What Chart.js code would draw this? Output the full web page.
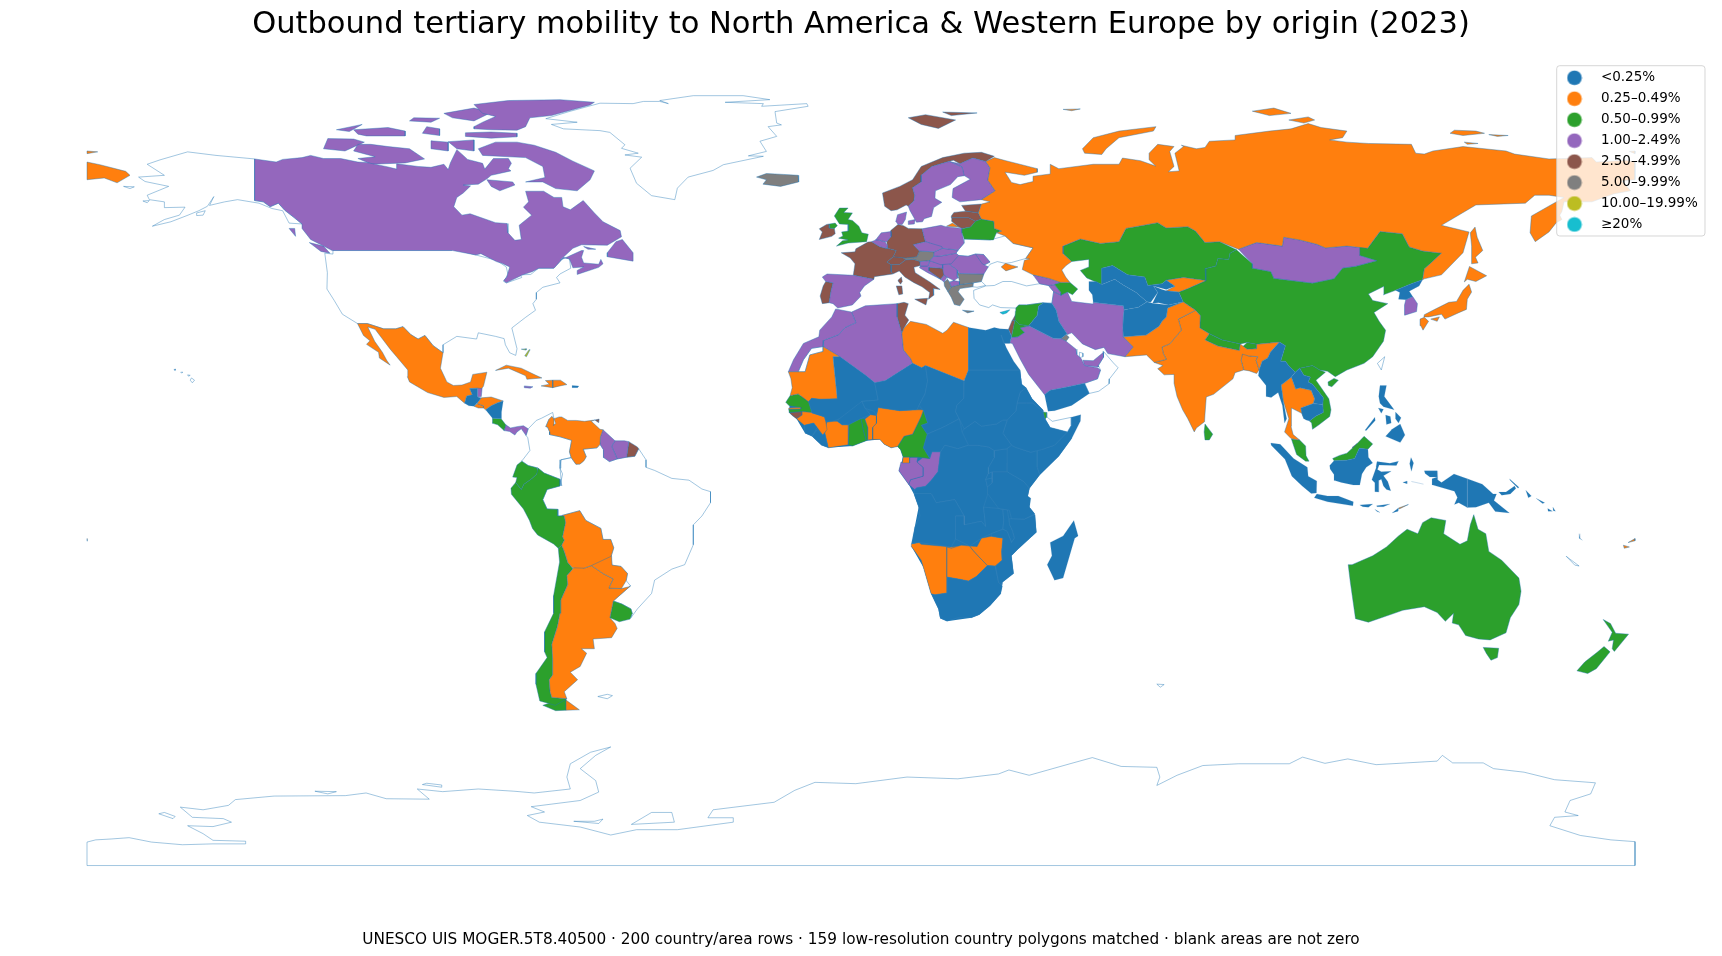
<!DOCTYPE html>
<html>
<head>
<meta charset="utf-8">
<title>Outbound tertiary mobility</title>
<script src="https://cdn.jsdelivr.net/npm/chart.js@4"></script>
<style>
  html, body { margin: 0; padding: 0; background: #fff; }
  canvas { display: block; }
</style>
</head>
<body>
<canvas id="map" width="1722" height="956"></canvas>
<script>
const titleText = 'Outbound tertiary mobility to North America & Western Europe by origin (2023)';
const noteText = 'UNESCO UIS MOGER.5T8.40500 · 200 country/area rows · 159 low-resolution country polygons matched · blank areas are not zero';
const classLabels = ['<0.25%', '0.25–0.49%', '0.50–0.99%', '1.00–2.49%', '2.50–4.99%', '5.00–9.99%', '10.00–19.99%', '≥20%'];
const classColors = ['#1f77b4', '#ff7f0e', '#2ca02c', '#9467bd', '#8c564b', '#7f7f7f', '#bcbd22', '#17becf'];

// country outlines as flat lon,lat lists, one list per share class
const under025 = [
  [-92.2,14.5,-91.7,16.1,-90.4,16.4,-91,17.8,-89.2,17.9,-89.2,15.9,-88.3,15.7,-89.2,14.6,-90,13.8,-91.2,13.9], // Guatemala
  [-83.2,15,-84.5,14.6,-86,13.9,-87.3,13,-85.7,11.1,-83.7,11,-83.6,12.5], // Nicaragua
  [-67.2,18.5,-65.6,18.4,-65.9,18,-67.2,18], // Puerto Rico
  [42.4,37.2,44.4,37.1,45.4,35.5,46,33,48,30,47.7,30,46.5,29.1,44.7,29.2,39,32,41,34.4,41.3,36.4], // Iraq
  [42.7,16.4,43,16.7,44,17.4,48.2,18.2,52,19,53.1,16.7,49,14,45,12.8,43.5,12.7], // Yemen
  [56,45,58.5,45.6,62,43.5,66,43,66.7,41.1,70,41.5,71,42.3,73,40.9,71,40.2,68,41,69,39.5,67.4,37.3,66.5,37.4,64,39.5,61,41.2,59,42.5,56,41.3], // Uzbekistan
  [53,42,54.7,42,56,41.3,59,42.5,61,41.2,64,39.5,66.5,37.4,64.5,36.2,61.2,35.6,61,36.5,54,37.3,53.8,39,53,40], // Turkmenistan
  [67.8,37.1,69.2,37.2,71.5,36.7,74.9,37.4,73.9,39.6,71,39.9,70,40.2,68,41,69,39.5], // Tajikistan
  [61.2,35.6,64.5,36.2,66.5,37.4,67.8,37.1,71.5,36.7,74.9,37.4,71.3,36,71,34,70,33,69.3,31.9,66.3,29.9,61,29.5,60.9,31.5,61,34], // Afghanistan
  [130.6,42.4,129.8,41,127.5,39.8,128.3,38.6,126.7,37.9,125,38,125.3,39.5,124.3,40,128,41.5], // North Korea
  [92.6,22,93.3,24,94.6,24.7,95.2,26,97.3,28.3,98.7,27.5,97.6,24,98.7,24,99.5,22.9,101,21.5,100.1,20.4,97.7,18.6,98.2,15,99,11,98.5,10,98,14,97,16.9,95.4,15.8,94.2,16,94.2,18.5,92.4,20.7], // Myanmar
  [100.1,20.4,101.1,17.7,102.1,18,104.7,17.4,105.5,15.5,105.2,14.4,107.4,14.2,107.5,15.8,105,18.8,104,19.3,104.5,20.4,103,20.8,102,22.4,101,21.5], // Laos
  [102.5,12.2,102.3,13.4,105.2,14.4,107.4,14.2,107.5,12.4,105.8,11.6,104.3,10.5,103.5,10.7,103,11], // Cambodia
  [109,0.4,110,1.5,112.9,1.6,114.8,2,115.9,4.3,117.9,4.1,118,2.3,119,1,117.5,0,116.5,-1.5,116,-4,114.5,-4,111.7,-3.4,110.2,-3,110,-1.6,109.1,-0.4], // Indonesia
  [95.3,5.5,97.5,5.2,100.6,2,103.8,0,104,-2,106,-3.1,105.9,-5.8,104.7,-5.9,102.6,-4.2,100.2,-2,98.6,1.8,95.4,5],
  [105.4,-6.9,106,-6,108.5,-6.5,111,-6.5,114.5,-7.8,114.4,-8.7,108.5,-7.8],
  [116,-8.5,119,-8.3,118,-9,116.7,-8.9],
  [119.9,-8.7,123,-8.3,121.5,-8.9,120,-8.9],
  [119.5,-9.5,120.7,-10.2,120,-10],
  [123.5,-10.3,125,-9.2,124.9,-9.9],
  [119.8,0.2,120,1.3,123,0.9,125,1.4,124.5,0.4,120.5,0.5,120.1,-0.5,121,-1,123.3,-0.9,121.5,-1.9,122.5,-3.2,123.2,-5.3,122.2,-5,121.5,-4.2,121,-2.7,120.4,-3,120.4,-5.6,119.5,-5.5,119.5,-3.5,118.8,-2.8,119.8,-0.1],
  [127.9,2.2,128.5,1,128,-0.9,127.6,0.8],
  [128,-3.2,130.8,-3.8,129,-3.4],
  [126,-3.4,127,-3.1,127,-3.7],
  [131,-0.8,134,-0.8,134.1,-2.8,135,-3.4,137.9,-1.5,141,-2.6,141,-9.1,139,-8,138,-8.4,138.7,-6.8,138,-5.4,133,-4,132.8,-2.6,134,-2.2,132.3,-2.2,131.2,-1.4],
  [141,-2.6,144.5,-3.8,147,-6,147.8,-6,147.2,-7.5,150.8,-10.3,147.5,-10,146,-8,143,-9,141,-9.1], // Papua New Guinea
  [148.3,-5.6,150,-5.6,152,-4.2,152.3,-4.8,151,-6,149,-6.3],
  [150.8,-2.6,153,-4.5,152.8,-4.7,151,-3],
  [154.6,-5.2,155.9,-6.5,155.2,-6.9], // Solomon Islands
  [157,-7,159,-8,158.5,-8.2],
  [160.9,-9,161.5,-9.9,161,-9.8],
  [159.7,-9.3,160.8,-9.9,159.8,-9.9],
  [167,-15,167.2,-16,167.8,-16.5,167,-16], // Vanuatu
  [120.4,16,120.7,18.5,122.2,18.5,121.7,16,124,13,121.5,13.7,120.7,14.5], // Philippines
  [122,7,125.4,5.6,126.5,7.3,125.4,9.8,123.5,8.6],
  [122,11.8,123.1,11.5,123.3,10,122.2,9.7],
  [124.3,12.5,125.6,11.2,125,10,124.3,11],
  [117.2,8.4,119.5,11.3,119.6,10.6,117.5,8.3],
  [120.3,13.4,121.5,13.1,121,12.2],
  [49.5,-12,50.5,-15.5,49.7,-16,47,-25,45,-25.5,43.3,-22,44.4,-20,44,-17,47,-15.5], // Madagascar
  [25,31.6,29,31,31,31.6,32.3,31.3,34.3,31.2,35,29.6,34.6,28,33.2,28,32.6,29.9,33.8,27,35.5,24,37,22,25,22], // Egypt
  [24,20,24,19.5,25,22,37,22,37.4,18.8,38.4,18,37,17,36.3,14.5,36,12.7,34,10.7,33,10.7,31.5,9.8,28,9.3,26.5,10.4,24,8.7,23,10.7,22,12.6,22.3,14,23.9,15.6], // Sudan
  [24,8.7,26.5,10.4,28,9.3,31.5,9.8,33,10.7,34,10.7,33,7.7,35,5,33.9,4.2,31,3.8,29.7,4.6,27,5,25,5,23.5,8], // South Sudan
  [36,12.7,36.3,14.5,38.5,14.5,40,14.5,42.4,12.5,42.8,11,44,9,48,8,45,5,42,4,39.5,3.4,36,4.5,35,5,33,7.7,34,10.7], // Ethiopia
  [36.3,14.5,37,17,38.4,18,39.8,15.5,42.4,12.9,42,12.5,40,14.5], // Eritrea
  [48.9,11.3,51.1,11.9,51,10.4,49,6.5,46,2.5,41.6,-1.7,41,0,41,4,42,4,45,5,48,8,48.9,9.5], // Somalia
  [34,4.2,35,5,36,4.5,39.5,3.4,41,4,41,0,41.6,-1.7,39.2,-4.7,37.7,-3.1,34,-1,34,1], // Kenya
  [29.6,-1.4,30.5,-1,34,-1,34,1,35,2,34,4.2,31,3.8,31,2.2,29.7,0], // Uganda
  [29,-2.7,29.6,-1.4,30.5,-1,30.5,-2.4], // Rwanda
  [29,-2.7,30.5,-2.4,30.5,-3.5,29.4,-4.4], // Burundi
  [30.5,-1,34,-1,37.7,-3.1,39.2,-4.7,38.8,-6.5,39.5,-7,39.2,-9,40.4,-10.5,38,-11.7,35,-11.6,34.5,-9.7,32,-9.3,29.5,-6,29.4,-4.4,30.5,-3.5], // Tanzania
  [34.5,-11.6,38,-11.7,40.5,-10.7,40.8,-14.7,36.5,-18.5,35,-20,35.5,-24,32.9,-26,32.8,-26.7,32,-26,31.3,-22.4,32.8,-21,32.7,-19,33,-16,30.3,-15.6,30.3,-15,33,-14,34,-14.5,35,-17,35.7,-16,35.3,-14.5,34.6,-13], // Mozambique
  [33,-9.5,34,-9.5,34.6,-13,35.3,-14.5,35.7,-16,35,-17,34,-14.5,33,-14,33.2,-12], // Malawi
  [22,-11,24,-11,24,-13,28,-12.2,29,-13.4,28.5,-9,32,-9.3,33,-9.5,33.2,-12,33,-14,30.3,-15,28,-16,25.3,-17.8,22,-16.2], // Zambia
  [13,-5.9,12.3,-6,13.4,-9,13.7,-11,12.5,-13.5,11.7,-17.3,13.5,-17,21,-18,22,-16.2,22,-11,24,-11,21.8,-7.3,17.5,-8,16.3,-5.9], // Angola
  [16.3,-28.6,17.2,-28.8,20,-28.4,20,-24.8,23,-25.3,25,-25.7,26.8,-24.7,29.4,-22.2,31.2,-22.3,32,-26,32.9,-26.8,32.5,-28.6,30,-31.3,27.5,-33.3,25.7,-34,22.5,-34,20,-34.8,18.4,-34.1,18,-32], // South Africa
  [27,-29.6,28.5,-28.6,29.4,-29.6,28,-30.6], // Lesotho
  [12.3,-6,13,-5.9,16.3,-5.9,17.5,-8,21.8,-7.3,24,-11,24,-13,28,-12.2,29,-13.4,28.5,-9,29.5,-6,29.4,-4.4,29,-2.7,29.6,-1.4,29.7,0,31,2.2,31,3.8,29.7,4.6,27,5,25,5,22.5,4.2,19.5,5,18.5,3.5,17.9,-1,16.3,-3,15,-4.3,13,-4.6,12.5,-5], // DR Congo
  [14.5,4.4,16,2,16.5,3.5,18.5,3.5,19.5,5,22.5,4.2,25,5,27,5,23.5,8,22.9,11,19,9,15.4,7.5], // Central African Republic
  [14.5,12.9,13.5,14,14.9,16.6,15.5,19.5,15,23,24,19.5,24,15.7,22.3,14,22,12.6,23,10.7,22.9,11,19,9,15.4,7.5,14,9.5,15.5,10], // Chad
  [3.6,11.7,3,12.7,1,13.3,0.2,14.9,4,15.2,3.2,19.1,5.7,19.6,12,23.5,14.1,22.5,15,23,15.5,19.5,14.9,16.6,13.5,14,13,13,9,12.8,4,13.5], // Niger
  [-12.2,14.8,-11.5,15.6,-9.5,15.4,-5.5,15.5,-6.5,25,-4.9,25,1.2,20.7,3.2,19.1,4,15.2,0.2,14.9,-5,11,-6.5,10.4,-8.2,10.4,-8.5,11.4,-11.4,12.2], // Mali
  [-5.5,10.4,-4.4,9.6,-2.8,9.6,0,11,2.2,11.9,1,13.3,0.2,14.9,-2,14.5,-5,11], // Burkina Faso
  [-13.2,9.5,-11,10,-10.2,9,-11.4,7,-13,7.7], // Sierra Leone
  [-11.4,7,-10.2,8.5,-8.9,7.3,-8.4,7.7,-7.6,4.4,-9.2,5] // Liberia
];
// Africa south of the Sahara laid underneath, so simplified borders leave no white slivers
const africaBase = [
  [15,23,24,19.5,25,22,37,22,37.4,18.8,38.4,18,39.8,15.5,42.4,12.9,42.8,11,44,9,48,8,49,6.5,46,2.5,41.6,-1.7,39.2,-4.7,38.8,-6.5,39.2,-9,40.4,-10.5,40.8,-14.7,36.5,-18.5,35,-20,35.5,-24,32.9,-26,32.5,-28.6,30,-31.3,27.5,-33.3,25.7,-34,20,-34.8,18.4,-34.1,18,-32,16.3,-28.6,14.5,-22.6,11.8,-18,12.5,-13.5,13.4,-9,12.3,-6,11.1,-3.9,8.8,-0.8,9.8,2.3,9.2,4,8.5,4.7,7,4.4,5.4,5.2,4.4,6.3,1.2,6,-2,4.8,-7.6,4.4,-9.2,5,-11.4,7,-13,7.7,-15,11,-16.7,12.4,-16.5,16.2,-12,16,-5.5,16,-4.9,25,1.2,20.7,3.2,19.1,5.7,19.6,12,23.5,14.1,22.5]
];
const from025 = [
  [-117.1,32.5,-114.8,32.5,-111,31.3,-108.2,31.3,-106.5,31.8,-104.7,30,-103,29,-101.4,29.8,-99.5,27.5,-97.2,25.9,-97.8,22.4,-96.3,19.3,-94.8,18.5,-92.8,18.6,-90.8,19.3,-90.3,21,-87,21.5,-87.8,18.3,-88.3,17.8,-89.1,17.9,-91,17.8,-90.4,16.4,-91.7,16.1,-92.2,14.5,-94,16,-97,15.8,-100.8,16.9,-105,19.3,-105.5,20.5,-105.4,22,-108,25,-109.4,26.6,-113,31.2,-114.7,31.7,-113.1,28.5,-111.3,26,-110.3,24.2,-109.5,23.1,-112,24.7,-112.2,26,-115,27.8,-114.2,28.6,-115.7,29.8], // Mexico
  [-89.2,14.6,-88.3,15.7,-86,15.9,-83.2,15,-84.5,14.6,-86,13.9,-87.3,13,-87.8,13.4,-87.8,13.9,-89.2,14.4], // Honduras
  [-90,13.8,-89.2,14.4,-87.8,13.9,-87.8,13.4,-89,13.4], // El Salvador
  [-85,21.9,-82.5,23.1,-79,22.4,-75.6,20.8,-74.2,20.2,-77.7,19.9,-78,20.7,-82,22.4], // Cuba
  [-73.4,19.6,-71.7,19.7,-71.7,18,-74.4,18.4,-72.5,18.8], // Haiti
  [-71.7,19.7,-69.9,19.7,-68.4,18.7,-70,18.4,-71.7,18], // Dominican Republic
  [-71.4,11,-71,9.9,-71.6,9.5,-71.4,10.9,-71.9,11.5,-72.6,10.8,-73.3,9.2,-72.9,9.1,-72.4,8,-72.4,7.4,-70,6.9,-67.3,6.1,-67.8,3.5,-67.4,2.2,-66.3,0.7,-65.4,0.7,-64.4,1.5,-63.9,2.4,-64.6,4.1,-61.4,4.4,-60.7,5.2,-60.6,6.9,-60,8.5,-60.7,8.6,-62.7,10.4,-61.9,10.7,-64.3,10.4,-66.2,10.6,-68.2,10.6,-69.6,11.4,-70.2,11.4], // Venezuela
  [-69.6,-10.9,-65.4,-9.8,-64,-12,-60.5,-13.8,-60,-16.3,-58.2,-16.3,-57.5,-18.2,-58.1,-20.1,-62.7,-22.2,-64.4,-22.8,-67.1,-22.7,-68.2,-21.5,-69,-19,-69.6,-17.6,-69,-16.5,-69.4,-15.7,-68.7,-12.5,-69,-11], // Bolivia
  [-58,-20,-57.9,-22.1,-55.8,-22.4,-54.3,-24,-54.6,-25.6,-55.7,-27.4,-58.6,-27.3,-57.6,-25.2,-60,-24,-62.7,-22.2,-61.8,-19.6,-58.2,-19.8], // Paraguay
  [-66,-21.9,-64.4,-22.8,-62.7,-22.2,-60,-24,-57.6,-25.2,-58.6,-27.3,-55.7,-27.4,-54,-27,-53.6,-26.8,-57.6,-30.2,-58.4,-34,-57.2,-35.3,-56.7,-36.4,-58,-38.5,-62.3,-38.8,-62,-41,-65,-41,-63.8,-42,-65.3,-45,-67.6,-46.3,-65.9,-48,-69,-50.7,-68.4,-52.3,-71.9,-52,-72.3,-50.7,-72.5,-48,-71.7,-46.9,-71.7,-43.4,-71.9,-40,-70.6,-36,-70,-33,-69.8,-30,-68.2,-26.5,-68.4,-24.5,-67,-22.9], // Argentina
  [-68.6,-52.6,-65.5,-54.8,-68.6,-54.9],
  [28,59.5,30,60,28,60.5,31.2,62.5,29.5,64.9,30,67.7,29,69.1,31,70,33.7,69.3,41,67.5,41,66.7,38,66,33.5,66.7,35,64.4,37,63.9,40,64.6,40,65.8,44,66.3,44,68.5,46,67.5,54,68.5,60,68.5,60.8,69.9,65,69.3,68.5,68.1,67,69.5,67,71,69,73,72.8,72.5,71.8,71.4,72.8,68,71.5,66.8,74,67,73,71,75,72.5,74.5,72.8,78,72,80,72.3,81,73.7,87,74,87,75,95,76,100,76.5,104,77.7,107,76.8,113,76,112,74.5,109,74,113,73.5,118,73.2,128,73,129,71,131,70.8,133,71.5,140,72.5,150,71.5,152,70.8,160,69.7,170,70,171,69,178,69.4,180,69,180,65,177,64.7,179,62.5,175,61.8,170,60,163.5,60,163,57.8,162.5,57,163,56,161.7,55.3,160,53.2,156.8,51,155.6,53,155.9,56.8,163.5,61,160,61.5,156.7,61.5,154.5,59.7,143,59.3,135,54.7,141.4,53.2,140,48.5,135,43.5,131,42.6,130.6,42.4,131,44.8,135,48.4,130.6,48.9,127.5,49.8,125.9,52.8,120.7,53.3,117.8,49.5,113,50,108,49.6,106,50.4,102,51.4,98.3,52,98,50,92,50.8,87.8,49.3,83.4,51,80,50.8,77.8,53.4,76,54.4,71,54.1,69,55.3,61.6,54,60,51,55.7,50.6,51,51.6,47,50,47,48.3,49,46.5,47.7,45.6,46.7,44.6,47.6,43,48.6,41.8,46.4,41.8,43.7,42.7,40,43.5,37.5,44.7,38,46.8,39.2,47.1,38.3,47.2,40,49.6,35.4,50.6,33.5,52.3,31.5,53,32.7,53.4,31,54,30.9,55.6,28,56.1,27.3,57.5], // Russia
  [-180,69,-177,68.4,-171,66.9,-170,66,-173,64.3,-176,65.4,-180,65],
  [-180,71.5,-177.5,71.3,-180,70.9],
  [178.7,71.4,180,71.5,180,70.9],
  [52,71,51.5,72,54,74.5,60,76,68.6,77,68,76,60,74.5,57,72,56,70.7],
  [47,80.9,51,81,49,80.6],
  [91,80.5,96,81.2,100,80,95,79.5],
  [99.5,78.5,104,79.2,105.5,78.5,103,77.8],
  [137,75.5,140,75,145,75.5,143,76,138,76.2],
  [146,75.2,150.5,75,148,74.8],
  [140.3,73.5,143.5,73.2,141,73],
  [142.8,54.3,143.3,52,144.6,49,142.9,47.5,143.5,46.2,142,46,142,50,141.7,53],
  [32.6,45.3,33.6,46.1,35,45.7,36.5,45.3,33.7,44.4], // Crimea
  [19.9,54.5,21.3,55.2,22.7,54.3], // Kaliningrad
  [71,42.3,75,42.9,80.2,42.2,76,40.4,73.9,39.6,71,39.9,73,40.9], // Kyrgyzstan
  [61,29.5,66.3,29.9,69.3,31.9,70,33,71,34,71.3,36,74.9,37.4,77.8,35.5,73.8,33.5,74.5,31,71.8,27.9,70,27.2,70.3,25.7,71,24.4,68.2,23.7,66.4,25.4,61.4,25,63.3,27.2], // Pakistan
  [73.8,33.5,77.8,35.5,78.9,34.3,78.8,31.5,81,30.2,80,28.8,83,27.4,88,26.4,88.2,27.9,89.8,26.7,92,26.8,92,27.8,97.3,28.3,95.2,26,94.6,24.7,93.3,24,92.6,22,91.9,24.2,92.3,25,90,25.2,88.7,25.6,88.4,24.2,89,22,87,21.4,86.5,20,82,16.5,80.3,15.9,80,12,79.9,10.3,78,8.9,77.5,8,76,11,74.8,13,73.5,16,72.8,19,72.8,21,70.5,20.9,69,22.3,70.2,23,68.2,23.7,71,24.4,70.3,25.7,70,27.2,71.8,27.9,74.5,31], // India
  [88.7,26,89.8,26,90,25.2,92.3,25,91.9,24.2,92.6,22,92,21.2,90.3,21.8,89,22,88.4,24.2], // Bangladesh
  [141.4,41.4,142,39.6,141,38,140.8,35.7,138.9,34.9,135.8,33.5,135,34.6,132,34,130.9,34,131,34.5,133,35.5,136.7,37.3,138.5,37.5,140,40], // Japan
  [140.3,41.9,141.5,45.4,145.5,43.3,143,42,141,42.5],
  [132.5,33.5,134.5,34,134,33],
  [130,33.5,131,33.9,132,33,130.7,31,130.2,32],
  [100.1,20.4,97.7,18.6,98.2,15,99.5,11,98.5,8,100,6.5,101,6.3,102,6.2,100.5,7.4,100,9.3,100.1,13.4,102.5,12.2,103,11,102.3,13.4,105.2,14.4,105.5,15.5,104.7,17.4,102.1,18,101.1,17.7], // Thailand
  [125,-9.2,127.3,-8.4,125.2,-9.4], // Timor-Leste
  [177.3,-17.6,178.7,-18,177.5,-18.3], // Fiji
  [178.4,-17,180,-16.1,180,-16.6],
  [-180,-16.1,-179.8,-16.4,-180,-16.7],
  [9.5,30.3,10,31.5,11.5,33,15.2,32.3,19,30.3,20,31,21.5,32.8,25,31.6,25,22,24,19.5,15,23,14.1,22.5,12,23.5,11.6,24.5,9.9,26.5], // Libya
  [-16.9,21.6,-14.6,21.6,-13,21.6,-11.9,25.4,-8.8,26.2,-8.8,27.3,-4.9,25,-6.5,25,-5.5,15.5,-9.5,15.4,-11.5,15.6,-12.2,14.8,-14.6,16.6,-16.5,16.2,-16,18,-16.3,20], // Mauritania
  [-16.8,13.4,-15,13.5,-14,13.5,-14,13.2,-16.8,13.1], // Gambia
  [-15,11,-13.7,11.8,-13.7,12.6,-11.4,12.4,-8.5,11.4,-8.2,10.4,-7.9,8.5,-8.9,7.3,-10.2,9,-11,10,-13.2,9.5], // Guinea
  [-8.4,7.7,-8,10.2,-6.5,10.4,-5.5,10.4,-4.4,9.6,-2.8,9.6,-3,7,-2.9,5.1,-7.6,4.4], // Ivory Coast
  [0.9,10.9,2.2,11.9,3.6,11.7,3.6,10,2.7,9,2.7,6.3,1.6,6.2,1.6,9], // Benin
  [2.7,6.3,2.7,9,3.6,10,3.6,11.7,4,13.5,9,12.8,13,13,14.1,13,14.5,12.9,14,11.5,12,7.5,10,7,8.5,4.7,7,4.4,5.4,5.2,4.4,6.3], // Nigeria
  [9.8,2.3,11.3,2.3,11.3,1,9.6,1], // Equatorial Guinea
  [25.3,-17.8,27,-17.9,28,-16,30.3,-15.6,33,-16,32.7,-19,32.8,-21,31.2,-22.3,29.4,-22.2,27.7,-20.5,26,-18.7], // Zimbabwe
  [20,-18,21,-18.3,23.3,-17.6,25.3,-17.8,26,-18.7,27.7,-20.5,29.4,-22.2,26.8,-24.7,25,-25.7,23,-25.3,20,-24.8,20,-22], // Botswana
  [11.7,-17.3,13.5,-17,14,-17.4,21,-18,25.3,-17.5,23.3,-17.9,21,-18.3,20,-18,20,-22,20,-28.4,17.2,-28.8,16.3,-28.6,14.5,-22.6,14,-21,11.8,-18], // Namibia
  [31,-25.8,32,-26,32,-27,30.8,-26.8] // Eswatini
];
const from050 = [
  [-85.7,11.1,-83.7,11,-82.6,9.6,-83,8.3,-84.5,9.6,-85.8,10], // Costa Rica
  [-80.3,-3.4,-80,-2.3,-81,-2.2,-80,0.5,-78.9,1.4,-77.4,0.4,-75.4,-0.1,-75.2,-0.9,-75.5,-1.6,-76.6,-2.6,-78.4,-3.8,-79,-5], // Ecuador
  [-81.4,-4.7,-80.3,-3.4,-79,-5,-78.4,-3.8,-76.6,-2.6,-75.5,-1.6,-75.2,-0.1,-73.7,-1.3,-70,-2.7,-70,-4.2,-73,-5,-74,-7.3,-73,-9.4,-70.5,-9.5,-70.5,-11,-69,-11,-68.7,-12.5,-69.4,-15.7,-69,-16.5,-69.6,-17.6,-70.4,-18.3,-71.5,-17.3,-75.2,-15.3,-76.4,-13.8,-77.1,-12,-78.5,-9.4,-81.3,-6.1], // Peru
  [-69.6,-17.6,-70.4,-18.3,-70.1,-21.4,-71.5,-29,-71.5,-33,-73.6,-37.2,-73.6,-41.7,-73,-43,-75.6,-46.6,-75.6,-49,-74.7,-52.8,-71.1,-53.8,-68.4,-52.3,-71.9,-52,-72.3,-50.7,-72.5,-48,-71.7,-46.9,-71.7,-43.4,-71.9,-40,-70.6,-36,-70,-33,-69.8,-30,-68.2,-26.5,-68.4,-24.5,-67,-22.9,-68.2,-21.5,-69,-19], // Chile
  [-68.6,-52.3,-70,-52.5,-74,-53.8,-71,-55,-68.6,-54.9],
  [-57.6,-30.2,-58.4,-34,-56.2,-34.9,-53.7,-34.3,-53.2,-33,-53.5,-32,-55.6,-30.9], // Uruguay
  [-5.7,50,-3,50.7,1.3,51,1.7,52.7,0.2,53,-0.5,54.5,-2,55.8,-3,56,-2,57.5,-4,57.6,-3,58.6,-5,58.6,-6.2,56.8,-5,55,-3,54.9,-3,53.4,-4.5,53.2,-4.2,52.3,-5.2,51.8,-3,51.4,-4.3,51.2], // United Kingdom
  [-7.3,55,-6,55.2,-5.5,54.6,-6.2,54,-7.4,54.1],
  [23.5,53.9,25.5,54.3,26.6,55.6,28,56.1,30.9,55.6,31,54,32.7,53.4,31.5,53,30.8,51.4,30,51.4,24,51.6,23.5,53], // Belarus
  [45,41.3,46.4,41.8,48.6,41.8,50.4,40.3,49.2,39,48,39.6,46.5,38.9,46.5,39.5], // Azerbaijan
  [51,51.6,55.7,50.6,60,51,61.6,54,69,55.3,71,54.1,76,54.4,77.8,53.4,80,50.8,83.4,51,87.3,49.2,85.8,48.4,85.5,47,83,47.2,82.5,45.5,80,44.9,80.2,42.2,75,42.9,71,42.3,70,41.5,66.7,41.1,66,43,62,43.5,58.5,45.6,56,45,56,41.3,52.5,42.8,51,44.5,53,45.3,53,47,49,46.5,47,48.3,47,50], // Kazakhstan
  [36,36,36.7,36.7,38.5,36.7,42.4,37.2,41.3,36.4,41,34.4,39,32,36.8,32.3,35.8,33.3,35.9,35.3], // Syria
  [35,29.4,35.5,31.8,35.8,33.3,36.8,32.3,39,32,37,31.5,38,30.5,36.5,29.5], // Jordan
  [80,28.8,81,30.2,84,28.8,88.2,27.9,88,26.4,83,27.4], // Nepal
  [88.8,27.3,89.8,28.2,92,27.8,92,26.8,89.8,26.7], // Bhutan
  [80,9.8,81.8,7.5,81,6.2,80,6.2,79.8,8], // Sri Lanka
  [73.9,39.6,76,40.4,80.2,42.2,80,44.9,82.5,45.5,83,47.2,85.5,47,85.8,48.4,87.3,49.2,91,46,91,45,95.3,44.2,96,42.7,105,41.6,110,42.6,112,45,115,45.4,120,46.7,116,47.9,116,50,117.8,49.5,120.7,53.3,125.9,52.8,127.5,49.8,130.6,48.9,135,48.4,131,44.8,130.6,42.4,128,41.5,124.3,40,121.5,39,121.6,40.9,118,39.2,119,37.7,122.5,37,119.3,35,120.5,33,122,31,121.5,28.5,119,25,117,23.5,113,22,110.3,20.5,108.5,21.7,106.7,22,105,23,102,22.4,101,21.5,99.5,22.9,98.7,24,97.6,24,98.7,27.5,97.3,28.3,92,27.8,89.8,28.2,88.2,27.9,84,28.8,81,30.2,78.8,31.5,78.9,34.3,77.8,35.5,74.9,37.4], // China
  [108.6,19.3,110,20.1,111,19.7,109.5,18.2,108.7,18.5], // Hainan
  [102,22.4,105,23,106.7,22,108,21.5,105.8,19.7,108.8,15.5,109.3,13,109,11.5,106.5,9.6,105,8.6,104.8,10,104.3,10.5,105.8,11.6,107.5,12.4,107.4,14.2,107.5,15.8,105,18.8,104,19.3,104.5,20.4,103,20.8], // Vietnam
  [100.1,6.4,101,6.3,102,6.2,103.4,4.8,103.5,2.6,104.2,1.4,103.4,1.4,101.3,2.9,100.4,5.5], // Malaysia
  [109.7,2,111.3,2.7,113,3.2,115,5,117,7,119,5.3,117.9,4.1,115.9,4.3,114.8,2,112.9,1.6,110,1.5],
  [113.3,-22,113.8,-26,115,-34.2,118,-35,124,-33,126,-32.3,131,-31.5,134,-32.8,135.9,-34.8,137.8,-33,137.5,-35.2,139,-35.6,140.6,-38,143.6,-38.8,146.3,-39,150,-37.4,151,-34,153,-31,153.5,-28,153,-25,149,-21,146,-19,145.3,-15,143.5,-14,142.5,-10.7,141.7,-13,141,-16.6,139.3,-17.4,135.5,-15,136,-12,132.6,-11.4,130.6,-12.5,129.5,-15,127,-14,125,-15.5,122.2,-18,119,-20,114.2,-22], // Australia
  [144.7,-40.7,148.3,-40.9,148,-43,146.5,-43.6,145.4,-42],
  [172.6,-34.4,174.3,-35.3,175.5,-37.5,178.5,-37.7,177,-39.5,175.2,-41.6,174.7,-41,175,-39,173.8,-39.3,174.7,-37.3], // New Zealand
  [172.8,-40.5,174.2,-41.7,172.7,-43.5,171,-45.5,169,-46.6,166.5,-46,168.3,-44,171.2,-41.8],
  [-17.5,14.7,-16.5,16.2,-14.6,16.6,-12.2,14.8,-11.4,12.4,-13.7,12.6,-16.7,12.4,-16.8,13.1,-14,13.2,-14,13.5,-16.7,13.9], // Senegal
  [-2.8,11,0,11,0.5,8.5,1.2,6,-2,4.8,-3.2,5.1,-3,7,-2.8,9.6], // Ghana
  [0,11,0.9,10.9,1.6,9,1.6,6.2,1.2,6,0.5,8.5], // Togo
  [8.5,4.7,9.2,4,9.8,2.3,13.2,2.3,16,2,14.5,4.4,15.4,7.5,14,9.5,15.5,10,14.5,12.9,14,11.5,12,7.5,10,7], // Cameroon
  [41.7,11.6,42.4,12.5,43.2,12.4,43.2,11.4,42.8,10.9] // Djibouti
];
const from100 = [
  [-141,69.7,-136,69,-134.5,69.6,-130,70,-128,70.5,-125,69.8,-121,69.8,-117,69,-115,68.9,-110,67.9,-108,67.4,-108,68.6,-103,68,-100,67.8,-97,68.5,-96,67.3,-95.5,68.8,-94,71.8,-92.5,70.5,-91.5,69.6,-88,68.7,-87.5,67.4,-85.5,69.8,-82,69.8,-81.3,68.7,-82,67.5,-81.4,67,-86,66,-87,65.2,-89,64,-92.5,63.8,-90.8,63.6,-92.5,62,-94,61,-94.7,58.9,-92.8,57,-90.9,57.3,-85,55.3,-82.3,55.1,-82.1,53,-80.5,51.3,-79,51.5,-79.5,54.7,-76.6,57,-78.5,58.8,-77.3,60,-78,62.4,-73.8,62.4,-71.4,61,-69.6,61,-69.3,58.9,-67.6,58.2,-64.6,60.3,-62,57.5,-60,55.5,-56,53.5,-55.7,52.1,-59,50.2,-65,50.3,-67,49.5,-70,46.8,-65,49,-64.5,49,-65,47.5,-64.5,46.2,-61,45.9,-60.5,47,-60,46,-61,45.2,-66,43.6,-66,44.5,-64.5,45.3,-67,45.1,-67.8,47.1,-69.2,47.4,-70.2,46.3,-71.4,45,-74.9,45,-76.5,44.2,-79,43.4,-79.1,43.3,-82.5,41.7,-83.1,42.2,-82.4,43,-81.7,45.3,-83.5,46.1,-84.8,46.5,-88.4,48.3,-89.6,48,-95,49,-123,49,-125,50,-128,51.5,-130,54,-130,55,-131.9,56.5,-134,58.1,-135.5,59.7,-137.4,58.9,-139,60,-141,60.3], // Canada
  [-80,73.5,-76,72.8,-71,71.2,-67,69.2,-62,67,-63,65,-66,62.5,-71,63,-74,64.5,-78,64.5,-73.5,65.5,-74,68,-78,70,-88,70.5,-89,72,-85,73.5],
  [-117,73,-114,73,-110,72.5,-105,72,-101.5,69.7,-106,68.8,-113.8,68.5,-117,69.8,-113,70.2,-118,71.5],
  [-124,74.3,-118,74.2,-115.5,73.5,-120,71.5,-125,72],
  [-90,76.5,-86,76.3,-80,76.2,-78,77,-77,79,-72,79.5,-63,81.9,-62,82.5,-70,83.1,-82,82.9,-90,82,-88,80,-85,79.3,-88,78,-90,77],
  [-92,75.6,-86,75.8,-80,75.5,-80,74.7,-86,74.4,-92,74.8],
  [-97,80,-90,81.2,-86,80.2,-90,78.3,-95,79],
  [-96,73.6,-90,74,-90,71.5,-94,72],
  [-100,73.8,-96,73.5,-96,71.5,-100,72],
  [-118,76.3,-110,76.8,-106,76,-106,74.9,-115,74.9,-117,75.3],
  [-101,77,-98,76.5,-98,75,-102,75.5],
  [-122,76.3,-116,77.5,-119,75.9],
  [-104,79,-98,78.9,-100,78,-105,78.3],
  [-59,47.6,-53,46.6,-53,48.5,-55.5,51.5,-57,51,-59,48.5],
  [-128.3,50.8,-125,50,-123.5,48.4,-125.6,48.8],
  [-133,54,-131.7,54,-131.5,52.2],
  [-64.5,49.9,-61.7,49.3,-63.5,49.3],
  [-87,65,-81,64.5,-80.5,63.8,-84,62.5,-86,63.5],
  [-89.2,17.9,-88.3,18.5,-88.1,18,-88.3,16,-89.2,15.9], // Belize
  [-83,8.3,-82.6,9.6,-81.5,8.9,-80,9.2,-78.5,9.4,-77.4,8.7,-77.9,7.2,-79,8.7,-80,8,-80.5,7.3,-81.7,8.1], // Panama
  [-78.3,18.4,-76.3,18.2,-76.9,17.9,-78.3,18], // Jamaica
  [-60,8.5,-57.2,6,-58,4.8,-56.7,1.9,-58.5,1.3,-59.8,2.2,-59.9,4,-60.7,5.2,-60.6,6.9], // Guyana
  [-57.2,6,-55,6,-54,5.8,-54.5,2.3,-56.7,1.9,-58,4.8], // Suriname
  [11,59,11.4,58,12.9,55.4,14.3,55.5,14.7,56.2,16.4,56.7,16.9,58.7,18.8,59.9,17.2,60.8,17.3,62.5,20.8,63.9,22.5,65.7,24,65.9,23.5,67.9,20.6,69.1,20,69,16.5,68,14,66,14,64.5,12,63.2,12.5,61.5,12.3,60.2], // Sweden
  [23.9,66,25.4,65.1,21.4,63,21.2,61,23,60,28,60.5,31.2,62.5,29.5,64.9,30,67.7,29,69.1,26,69.9,23,68.6,20.6,69.1,23.5,67.9], // Finland
  [8.1,55.6,8.5,57.1,10.6,57.7,10.3,56,9.6,54.9,8.6,54.9], // Denmark
  [11,55.7,12.6,56,12.4,55,11,54.9],
  [3.4,51.4,4.7,53,7,53.3,7,52.2,6,51,5.6,51,4,51.4], // Netherlands
  [2.5,51,3.4,51.4,4,51.4,5.6,51,6.2,50.1,5.8,49.5,4.3,49.9], // Belgium
  [6,50.1,6.2,49.5,5.9,49.5], // Luxembourg
  [-9,43,-7.9,43.7,-1.8,43.4,3,42.5,0.8,41,-0.3,39.5,0,38.7,-2,36.7,-5.4,36,-6.5,37,-7.4,37.2,-7,39.7,-6.5,41.7,-8.2,42], // Spain
  [12.2,50.3,15,51,18.8,49.9,18.9,49.5,17,48.7,13.6,48.9], // Czechia
  [14.2,53.9,18.6,54.7,19.7,54.4,23.5,54,23.5,53,24,50.7,22.6,49.1,18.9,49.5,15,51,14.7,52], // Poland
  [17,48.7,18.9,49.5,22.6,49.1,22.1,48.4,18.8,47.8,16.9,47.7], // Slovakia
  [16,46.7,16.9,47.7,18.8,47.8,22.1,48.4,22.7,47.9,21,46,18.5,45.8], // Hungary
  [13.7,46.5,16,46.7,15.5,45.5,13.8,45.5], // Slovenia
  [13.6,45.1,13.8,45.5,15.5,45.5,16,46.7,18.9,45.9,19,45,15.8,45.2,15.8,44.4,18.5,42.5,15.5,44], // Croatia
  [18.9,45.9,20.3,46.1,22.4,44.5,22.4,43,22.7,42.9,21.6,42.2,20,43,19.2,43.6,19,45], // Serbia
  [18.5,42.5,19.4,43.5,20,43,19.3,41.9], // Montenegro
  [20.6,41.8,21.6,42.2,22.9,42,22.9,41.3,21,40.8], // North Macedonia
  [20.3,46.1,22.7,47.9,24.9,47.7,26.6,48.2,28.2,46,29.6,45.3,28.6,43.7,23,43.8,22.4,44.5], // Romania
  [26.6,48.2,28.5,48.1,30,46.4,28.2,45.5], // Moldova
  [40,43.5,43.7,42.7,46.4,41.8,45,41.3,43.6,41.1,41.5,41.5], // Georgia
  [43.6,41.1,45,41.3,46.5,39.5,46.5,38.9,44.8,39.7], // Armenia
  [44.4,37.1,44.8,39.7,46.5,38.9,48,39.6,49,37.5,54,36.9,54,37.3,61,36.5,61.2,35.6,61,34,60.9,31.5,61,29.5,63.3,27.2,61.4,25,57.4,25.7,56.5,27.1,54.5,26.6,51.5,27.9,49,30.4,48,30,46,33,45.4,35.5], // Iran
  [34.6,28.1,35,29.4,36.5,29.5,38,30.5,37,31.5,39,32,44.7,29.2,46.5,29.1,47.7,28.5,50,26.7,50.2,25.5,51.2,24.6,52,23,55,22.5,55.7,22,55,20,52,19,48.2,18.2,44,17.4,43,16.7,42.7,16.4,39,21,37,24.5,35.2,28], // Saudi Arabia
  [51.6,24.2,54,24.1,56.4,26,56.4,24.9,55.2,23,55.2,22.7,52,23], // UAE
  [87.8,49.3,92,50.8,98,50,98.3,52,102,51.4,106,50.4,108,49.6,113,50,117,49.6,116,47.9,120,46.7,115,45.4,112,45,110,42.6,105,41.6,96,42.7,95.3,44.2,91,45,91,46], // Mongolia
  [126.7,37.9,128.3,38.6,129.4,37,129.2,35.2,126.5,34.4,126.4,36.7], // South Korea
  [-5.9,35.8,-2.2,35.1,-1.2,32.7,-3.7,31.6,-5.2,30,-8.7,28.7,-8.8,27.3,-11.5,26.9,-13.4,24.3,-14.6,21.6,-16.9,21.6,-15.7,24.3,-13.4,28,-9.8,29.5,-9.6,31,-6.8,34], // Morocco
  [-8.8,27.3,-8.7,28.7,-5.2,30,-3.7,31.6,-1.2,32.7,-2.2,35.1,1,36.5,8.4,37,8.4,34,9.5,30.3,9.9,26.5,11.6,24.5,12,23.5,5.7,19.6,3.2,19.1,1.2,20.7,-4.9,25], // Algeria
  [9.3,1.2,8.8,-0.8,11.1,-3.9,11.5,-2.8,14.4,-2,14.4,0,13,1.2,13.2,2.3,9.8,2.3,9.8,1], // Gabon
  [11.1,-3.9,12.5,-5,13,-4.6,15,-4.3,16.3,-3,17.9,-1,18.5,3.5,16.5,3.5,16,2,14.4,2.2,13,1.2,14.4,0,14.4,-2,11.5,-2.8] // Congo
];
const from250 = [
  [-54,5.8,-52,4.6,-51.7,4.2,-52.6,2.5,-54.5,2.3], // French Guiana
  [-61.9,10.7,-60.9,10.9,-61,10.1], // Trinidad
  [-9.7,53.9,-8,54.9,-7.3,55,-7.4,54.1,-6.2,54,-6,52.8,-6.8,52.2,-9.7,51.5,-9,53.2], // Ireland
  [5.5,59,7,58,8.4,58.2,10.5,59.3,11,59,12.3,60.2,12.5,61.5,12,63.2,14,64.5,14,66,16.5,68,20,69,21.5,69.4,23,68.6,26,69.9,29,69.1,31,70.3,28,71.2,24,71,19,70,14,68,12,65,9,63.5,5,62], // Norway
  [15,79.7,22,78.5,18,76.6,14,77.5,11,79],
  [19,80.3,27,80.1,21,79.5],
  [6.9,53.5,8.6,54.9,9.9,54.6,11,54,14.2,53.9,14.7,52,15,51,12.2,50.3,13.6,48.9,13,47.6,10.4,47.3,7.5,47.6,8.2,49,6.2,49.5,6,51,7,52.2], // Germany
  [-4.6,48.5,-1.4,48.7,-1.2,49.4,1.6,50.9,2.5,51,4.3,49.9,5.8,49.5,6.2,49.5,8.2,49,7.5,47.6,6,46.4,7,45.8,7,44.2,7.4,43.7,3.1,43.1,3,42.5,-1.8,43.4,-1.4,46,-2.5,47.3], // France
  [8.6,42.3,9.4,43,9.6,42,9.2,41.4,8.7,42],
  [-8.2,42,-6.5,41.7,-7,39.7,-7.4,37.2,-9,37,-9.5,38.7,-8.8,41], // Portugal
  [6,46.4,7.5,47.6,9.6,47.5,10.4,46.9,9,45.9,7,45.8], // Switzerland
  [7,45.8,9,45.9,10.4,46.9,12.2,47,13.7,46.5,13.8,45.6,12.3,45.2,12.6,44,16,41.9,18.4,40.2,16.8,40.4,16.9,38.9,15.7,38,16,39.5,14.2,40.8,12.2,41.8,10.2,43,8.9,44.4,7.4,43.7,7,44.2], // Italy
  [12.5,38,15.5,38.2,15.1,36.7],
  [8.2,41,9.5,41,9.7,39.2,8.8,39],
  [15.8,45.2,19,45,19.4,43.5,18.5,42.5,15.8,44.4], // Bosnia
  [21,55.7,21.1,56.4,25,56.4,26.6,55.6,25.5,54.3,23.5,54,22.7,54.3], // Lithuania
  [21,56.8,21.6,57.6,24.3,57.9,27.3,57.5,28,56.1,26.6,55.6,25,56.4,21.1,56.4], // Latvia
  [23.4,59.2,28,59.5,27.3,57.5,24.3,57.9], // Estonia
  [34.3,31.2,35.1,33.1,35.8,33.3,35.5,31.8,35,29.6], // Israel
  [35.1,33.1,35.8,33.3,36.6,34.2,36,34.6], // Lebanon
  [114.2,4.5,115.4,5.4,115.1,4.2], // Brunei
  [8.4,37,10,37.3,11,37,10.2,34.4,11.1,33.3,10,31.5,9.5,30.3,8.4,34], // Tunisia
  [-16.7,12.4,-13.7,12.6,-13.7,11.8,-15,11,-16,11.7] // Guinea-Bissau
];
const from500 = [
  [-24.3,65.6,-22,66.4,-18,66.2,-14.6,66,-14.5,64.5,-18.7,63.5,-22.8,64,-22,65], // Iceland
  [9.6,47.5,13,47.6,13.6,48.9,17,48.7,16.9,47.7,16,46.7,13.7,46.5,12.2,47,10.4,46.9], // Austria
  [22.4,44.2,23,43.8,28.6,43.7,28,42,26.1,41.7,22.9,41.3,22.9,42,22.7,42.9], // Bulgaria
  [19.3,41.9,20.1,42.5,20.6,41.8,21,40.8,20.2,39.7,19.4,41], // Albania
  [20.2,39.7,21,40.8,22.9,41.3,26.1,41.7,26,40.8,23,40.4,22.6,39.7,24,38,23,36.5,21.7,36.8,21,38.4], // Greece
  [23.6,35.5,26.3,35.3,24.8,34.9],
  [46.5,29.1,47.7,30,48.4,29.4,47.7,28.5] // Kuwait
];
const from1000 = [
  [-78.2,25.2,-77.2,26.6,-77,26.5,-77.8,25], // Bahamas
  [-79,26.7,-77.8,26.8,-77.9,26.5]
];
const from2000 = [
  [32.3,35,34.6,35.6,33.9,34.9,33,34.6] // Cyprus
];
// countries without a value: outline only
const noValue = [
  [-122.8,49,-95.2,49,-95,49.4,-89.6,48,-84.8,46.8,-82.5,45.3,-82.1,43.6,-83.1,42,-82.4,41.7,-78.9,42.9,-79.2,43.5,-76.8,43.6,-75,45,-71.5,45,-70.2,46.3,-69.2,47.4,-67.8,47.1,-67.5,45,-70,43.7,-70.8,42.9,-70,41.7,-74,40.7,-75.5,39.5,-75.5,38,-76.3,37,-75.7,35.5,-78,33.9,-81.2,31.5,-80,26.8,-80.3,25.3,-81.7,25.9,-82.7,27.7,-83,29.1,-85,29.6,-89,30.4,-89.4,29,-94,29.6,-97.2,27.7,-97.2,25.9,-99.5,27.5,-101.4,29.8,-103,29,-104.7,30,-106.5,31.8,-108.2,31.3,-111,31.3,-114.8,32.5,-117.1,32.5,-120.6,34.6,-122.5,37.7,-124.2,40.3,-124.1,44,-124.7,48.4,-122.8,48.2], // United States
  [-141,69.7,-141,60.3,-139,60,-137.4,58.9,-135.5,59.7,-134,58.1,-131.9,56.5,-130,55,-133,55.2,-134.5,58,-137,58.5,-140,59.7,-145,60.5,-148,60,-151.5,59.2,-150.5,61.2,-152,59,-154,58,-156.5,57,-160.5,55.5,-164.8,54.5,-162,56,-158.5,57,-157.2,58.8,-162,58.7,-162,60,-165.5,60.5,-166,61.5,-161,63.5,-166.5,64.6,-168,65.6,-162,66,-166,68.5,-163,69.5,-156.6,71.3,-150,70.5],
  [-154.5,57.5,-152.5,58,-153,57,-154.5,56.9],
  [-167,60.2,-165.5,60.3,-166,59.8],
  [-171.5,63.5,-169,63.4,-170,63],
  [-155.5,19.1,-155,19.7,-155.7,20.2,-156,19.7],
  [-156.6,20.9,-156,20.8,-156.4,20.6],
  [-158.2,21.5,-157.7,21.5,-158,21.3],
  [-159.8,22.1,-159.4,22.2,-159.5,21.9],
  [-60.7,82.3,-53,82.2,-50.6,82.7,-46.8,82.7,-44.8,82.2,-46.8,82.9,-39,84,-27.4,84,-21.2,83.1,-31.6,82.5,-22.7,82.2,-23.1,81.6,-12.6,82.2,-12.3,81.6,-20,80.4,-19.6,77.8,-18.5,77.4,-21.6,77,-19.6,74.8,-23.5,73.7,-22,71.4,-26.2,70.4,-22.7,70.3,-32,68.4,-34.4,67.1,-40.2,65.6,-42.7,63.1,-43.3,60.5,-48.7,61.4,-52.2,64.2,-53.7,67.6,-51,70.1,-54.9,70.6,-51.8,71,-55.7,72.1,-54.9,72.9,-58.4,75.7,-60.7,76.1,-69.2,76.5,-72,77.5,-66,78,-73.3,78.8,-67.9,80.4], // Greenland
  [-77.4,8.7,-75.5,10.6,-74.3,11.1,-71.7,12.4,-71.4,11,-71.9,11.5,-72.6,10.8,-73.3,9.2,-72.9,9.1,-72.4,8,-72.4,7.4,-70,6.9,-67.3,6.1,-67.8,3.5,-67.4,2.2,-69.8,1.7,-70,-0.2,-69.6,-4.2,-70,-2.7,-73.7,-1.3,-75.2,-0.1,-75.4,-0.1,-77.4,0.4,-78.9,1.4,-77,3.8,-77.5,6.7,-77.9,7.2], // Colombia
  [-60.7,5.2,-59.9,4,-59.8,2.2,-58.5,1.3,-56.7,1.9,-54.5,2.3,-52.6,2.5,-51.7,4.2,-50,1.7,-50,0,-48,-0.7,-44,-2.5,-40,-2.9,-37,-4.9,-35,-5.5,-35,-8,-37,-11,-39,-13,-39,-17.5,-41,-22,-44,-23,-48,-25.5,-48.7,-28.5,-52,-32,-53.5,-34,-53.2,-33,-53.5,-32,-55.6,-30.9,-57.6,-30.2,-53.6,-26.8,-54.6,-25.6,-54.3,-24,-55.8,-22.4,-57.9,-22.1,-58.1,-20.1,-57.5,-18.2,-58.2,-16.3,-60,-16.3,-60.5,-13.8,-64,-12,-65.4,-9.8,-69.6,-10.9,-70.5,-11,-70.5,-9.5,-73,-9.4,-74,-7.3,-73,-5,-70,-4.2,-69.4,-1.5,-70,-0.2,-69.8,1.7,-67.4,2.2,-66.3,0.7,-65,1,-63.9,2.4,-64.6,4.1,-61.4,4.4], // Brazil
  [-61.2,-51.8,-59,-51.3,-57.8,-51.6,-59,-52.3], // Falklands
  [22.1,48.4,22.6,49.1,24,50.7,24,51.6,30,51.4,33.5,52.3,35.4,50.6,40,49.6,38.3,47.2,35,46.3,33.6,46.1,31.7,46.5,30,45.9,29.6,45.3,28.2,45.5,30,46.4,28.5,48.1,26.6,48.2,24.9,47.7,22.7,47.9], // Ukraine
  [26.2,39.5,26.2,40,29,41,31,41.1,33,42,35,42,38.5,41,41.5,41.5,43.6,41.1,44.8,39.7,44.4,37.1,42.4,37.2,38.5,36.7,36.7,36.7,36,36,32.5,36.1,30.6,36.7,29.7,36.1,27.6,36.7,26.3,38.2], // Turkey
  [26,40.8,26.1,41.7,28,42,29,41.1,27,40.7],
  [52,19,55,20,55.7,22,55.2,23,56.4,24.9,56.3,26.3,58.7,23.6,59.8,22.5,57.8,20,57.7,18.9,55.3,17.2,53.1,16.7], // Oman
  [50.8,24.8,50.8,26,51.6,25.8,51.6,25], // Qatar
  [43.2,11.4,44.5,10.4,48.9,11.3,48.9,9.5,48,8,44,9,42.8,10.9], // Somaliland
  [-8.8,27.3,-8.8,26.2,-11.9,25.4,-13,21.6,-14.6,21.6,-13.4,24.3,-11.5,26.9], // Western Sahara
  [20,43,21.6,42.6,21.6,42.2,20.5,41.9,20.1,42.5], // Kosovo
  [121.8,25,121,22,120.1,23.5], // Taiwan
  [164,-20.1,167,-22.3,166,-22.1], // New Caledonia
  [68.8,-49,70.5,-49.1,69.6,-49.7], // Kerguelen
  [-180,-90,-180,-84.7,-178,-84.2,-174.4,-84,-170.2,-83.7,-165,-84.7,-157.8,-85.3,-150.7,-85.1,-143.1,-85.1,-143.1,-84.5,-150.7,-84.3,-153,-82.8,-156.6,-81,-150.7,-81.2,-146.4,-80.2,-148.3,-79.4,-155.5,-79.1,-158.3,-76.8,-153,-77.4,-147.1,-76.4,-145.5,-75.1,-136.5,-74.3,-119.9,-74.2,-115.1,-73.6,-110.4,-74.9,-100.4,-75,-103.2,-72.7,-97.3,-73.3,-89,-72.7,-80.7,-73.2,-76,-73.6,-67.6,-72.7,-68.4,-70,-67.6,-67,-62.9,-64.4,-58.2,-63.2,-61.7,-65.1,-65.3,-68.1,-61.7,-70.8,-61,-73.4,-65.3,-75.3,-76.7,-76.7,-73.6,-77.9,-77.6,-78.7,-74.8,-80.2,-65.3,-81.3,-58.2,-83.1,-52.2,-81.9,-42.7,-81.9,-29.7,-80.2,-29.7,-79.2,-35.6,-79.2,-34.4,-77.4,-20.2,-75.7,-15.4,-73,-10.7,-71.2,-1.2,-71.5,10.7,-70,22.5,-70.4,32,-69.3,34.4,-68.4,39.1,-69.6,48.6,-67,53.8,-65.6,60.5,-67.6,68.8,-67.8,69.5,-70,68.8,-71.9,73.5,-69.6,79.5,-67.4,87.8,-67,99.6,-67,102.7,-65.5,107.9,-66.9,113.2,-65.9,119.8,-67.2,134,-66.4,135.2,-65.1,137.6,-66.8,144.7,-66.8,147.1,-68.1,154.2,-68.9,161.3,-70.6,170.8,-71.3,169.7,-73.8,164.9,-75.3,163.7,-77.9,166.8,-78.7,161.3,-79.1,160.2,-81,167.3,-83.2,174.4,-84.2,180,-84.6,180,-90], // Antarctica
  [-163.3,-78.3,-160,-79.4,-159.5,-78.9,-162,-78],
  [-102,-71.7,-97.5,-72.3,-97.5,-71.8,-101,-71.4],
  [-127,-73.2,-124,-73.8,-122,-73.3],
  [-66.8,-80,-61,-80.5,-60,-79.5,-62,-80],
  [-53.4,-80.7,-48.7,-78,-44,-78,-43.4,-80.2]
];

const classRings = [under025, from025, from050, from100, from250, from500, from1000, from2000];
const edgeColor = 'rgba(31,119,180,0.6)';
const edgeOnBlue = 'rgba(90,150,195,0.35)';

function ringPoints(ring) {
  const pts = [];
  for (let i = 0; i < ring.length; i += 2) pts.push({ x: ring[i], y: ring[i + 1] });
  pts.push({ x: ring[0], y: ring[1] });
  return pts;
}

const datasets = [];
// order 1 draws under everything else
africaBase.forEach(ring => datasets.push({
  data: ringPoints(ring), showLine: true, fill: 'shape', pointRadius: 0, borderWidth: 0,
  backgroundColor: classColors[0], clip: false, order: 1
}));
classRings.forEach((rings, c) => {
  rings.forEach(ring => datasets.push({
    data: ringPoints(ring), showLine: true, fill: 'shape', pointRadius: 0, borderWidth: c === 0 ? 0.5 : 0.7,
    borderColor: c === 0 ? edgeOnBlue : edgeColor, backgroundColor: classColors[c], clip: false
  }));
});
noValue.forEach(ring => datasets.push({
  data: ringPoints(ring), showLine: true, fill: false, pointRadius: 0, borderWidth: 0.7,
  borderColor: edgeColor, backgroundColor: 'transparent', clip: false
}));

// round legend markers, the label gap is wider than Chart.js gives a plain circle
function dotImage(color) {
  const c = document.createElement('canvas');
  c.width = 16; c.height = 16;
  const g = c.getContext('2d');
  g.fillStyle = color;
  g.beginPath(); g.arc(8, 8, 7.3, 0, Math.PI * 2); g.fill();
  return c;
}
const dots = classColors.map(dotImage);

// legend sits over the map, so it gets moved after layout and drawn last
const legendOverMap = {
  id: 'legendOverMap',
  beforeLayout(chart) {
    const legend = chart.legend;
    legend._layers = () => [{ z: 10, draw() {
      const g = chart.ctx;
      g.save();
      g.beginPath(); g.roundRect(1556.7, 65.7, 148.3, 170.3, 3);
      g.fillStyle = 'rgba(255,255,255,0.8)'; g.fill();
      g.strokeStyle = 'rgba(204,204,204,0.8)'; g.lineWidth = 1; g.stroke();
      g.restore();
      legend.draw();
    } }];
  },
  afterLayout(chart) {
    const legend = chart.legend;
    legend.left = 1547.4; legend.top = 63.6;
    legend.right = 1720; legend.bottom = 240;
    legend.width = 172; legend.height = 178;
    legend.adjustHitBoxes();
  }
};

new Chart(document.getElementById('map'), {
  type: 'scatter',
  data: { datasets },
  plugins: [legendOverMap],
  options: {
    responsive: false,
    animation: false,
    events: [],
    layout: { autoPadding: false, padding: { left: 87, right: 87, top: 0, bottom: 0 } },
    scales: {
      x: { type: 'linear', display: false, min: -180, max: 180 },
      y: { type: 'linear', display: false, min: -90, max: 83.7 }
    },
    plugins: {
      tooltip: { enabled: false },
      title: {
        display: true, text: titleText, color: '#000',
        font: { family: 'DejaVu Sans', size: 30.5, weight: 'normal' },
        padding: { top: 7, bottom: 53.4 }
      },
      subtitle: {
        display: true, position: 'bottom', text: noteText, color: '#000',
        font: { family: 'DejaVu Sans', size: 15.3, weight: 'normal' },
        padding: { top: 65.3, bottom: 6.8 }
      },
      legend: {
        position: 'chartArea', align: 'start',
        labels: {
          color: '#000', padding: 7.45, usePointStyle: true, pointStyleWidth: 39.3, boxHeight: 13.5,
          font: { family: 'DejaVu Sans', size: 13.5 },
          generateLabels: () => classLabels.map((text, i) => ({
            text, pointStyle: dots[i], fillStyle: classColors[i], strokeStyle: classColors[i], lineWidth: 0, fontColor: '#000'
          }))
        }
      }
    }
  }
});
</script>
</body>
</html>
